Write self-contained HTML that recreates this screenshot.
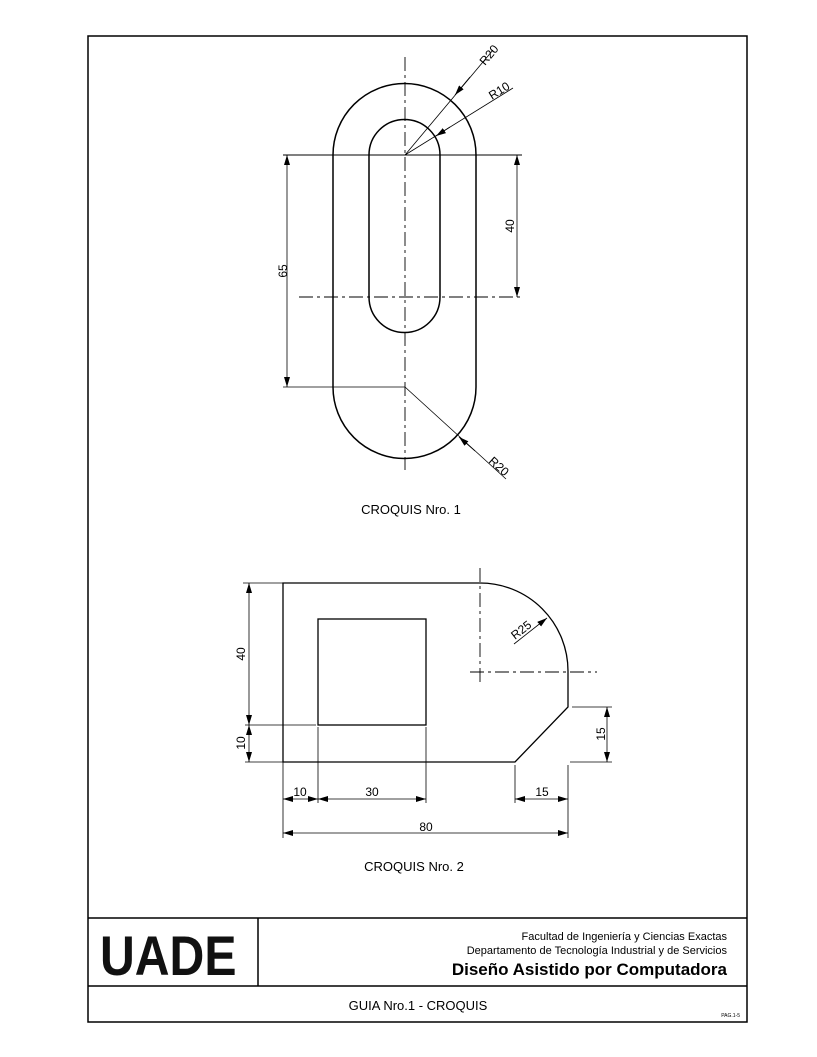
<!DOCTYPE html>
<html><head><meta charset="utf-8"><style>
html,body{margin:0;padding:0;background:#fff;}
svg{display:block;font-family:"Liberation Sans",Arial,sans-serif;}
</style></head><body>
<svg width="817" height="1057" viewBox="0 0 817 1057" xmlns="http://www.w3.org/2000/svg">
<defs>
<marker id="a" viewBox="0 0 10 6" refX="10" refY="3" markerWidth="10" markerHeight="6" orient="auto-start-reverse" markerUnits="userSpaceOnUse"><path d="M0,0 L10,3 L0,6z" fill="#000"/></marker>
</defs>
<rect x="88" y="36" width="659" height="986" fill="none" stroke="#000" stroke-width="1.5"/>
<g fill="none" stroke="#000">
<path d="M333,155 A71.5,71.5 0 0 1 476,155 L476,387 A71.5,71.5 0 0 1 333,387 Z" stroke-width="1.5"/>
<path d="M369,155 A35.5,35.5 0 0 1 440,155 L440,297 A35.5,35.5 0 0 1 369,297 Z" stroke-width="1.5"/>
<line x1="405" y1="57" x2="405" y2="470" stroke-width="0.9" stroke-dasharray="14,4,3,4"/>
<line x1="299" y1="297" x2="520" y2="297" stroke-width="0.9" stroke-dasharray="14,4,3,4"/>
<line x1="283" y1="155" x2="522" y2="155" stroke-width="1"/>
<line x1="283" y1="387" x2="405" y2="387" stroke-width="0.8"/>
<line x1="287" y1="155" x2="287" y2="387" stroke-width="0.8" marker-start="url(#a)" marker-end="url(#a)"/>
<line x1="517" y1="155" x2="517" y2="297" stroke-width="0.8" marker-start="url(#a)" marker-end="url(#a)"/>
<line x1="493" y1="50" x2="405" y2="155" stroke-width="0.8"/>
<line x1="470" y1="77" x2="455" y2="95" stroke-width="0.8" marker-end="url(#a)"/>
<line x1="513" y1="88" x2="405" y2="155" stroke-width="0.8"/>
<line x1="450" y1="127" x2="436" y2="136" stroke-width="0.8" marker-end="url(#a)"/>
<line x1="405" y1="387" x2="506" y2="479" stroke-width="0.8"/>
<line x1="475" y1="451" x2="459" y2="437" stroke-width="0.8" marker-end="url(#a)"/>
<path d="M283,583 L480,583 A88,88 0 0 1 568,671 L568,707 L515,762 L283,762 Z" stroke-width="1.3"/>
<rect x="318" y="619" width="108" height="106" stroke-width="1.3"/>
<line x1="480" y1="568" x2="480" y2="682" stroke-width="0.9" stroke-dasharray="14,4,3,4"/>
<line x1="470" y1="672" x2="597" y2="672" stroke-width="0.9" stroke-dasharray="14,4,3,4"/>
<line x1="243" y1="583" x2="283" y2="583" stroke-width="0.8"/>
<line x1="245" y1="725" x2="316" y2="725" stroke-width="0.8"/>
<line x1="245" y1="762" x2="283" y2="762" stroke-width="0.8"/>
<line x1="249" y1="583" x2="249" y2="725" stroke-width="0.8" marker-start="url(#a)" marker-end="url(#a)"/>
<line x1="249" y1="725" x2="249" y2="762" stroke-width="0.8" marker-start="url(#a)" marker-end="url(#a)"/>
<line x1="572" y1="707" x2="612" y2="707" stroke-width="0.8"/>
<line x1="570" y1="762" x2="612" y2="762" stroke-width="0.8"/>
<line x1="607" y1="707" x2="607" y2="762" stroke-width="0.8" marker-start="url(#a)" marker-end="url(#a)"/>
<line x1="283" y1="762" x2="283" y2="838" stroke-width="0.8"/>
<line x1="318" y1="727" x2="318" y2="803" stroke-width="0.8"/>
<line x1="426" y1="727" x2="426" y2="803" stroke-width="0.8"/>
<line x1="515" y1="765" x2="515" y2="803" stroke-width="0.8"/>
<line x1="568" y1="765" x2="568" y2="838" stroke-width="0.8"/>
<line x1="283" y1="799" x2="318" y2="799" stroke-width="0.8" marker-start="url(#a)" marker-end="url(#a)"/>
<line x1="318" y1="799" x2="426" y2="799" stroke-width="0.8" marker-start="url(#a)" marker-end="url(#a)"/>
<line x1="515" y1="799" x2="568" y2="799" stroke-width="0.8" marker-start="url(#a)" marker-end="url(#a)"/>
<line x1="283" y1="833" x2="568" y2="833" stroke-width="0.8" marker-start="url(#a)" marker-end="url(#a)"/>
<line x1="514" y1="644" x2="547" y2="618" stroke-width="0.8" marker-end="url(#a)"/>
<line x1="88" y1="918" x2="747" y2="918" stroke-width="1.5"/>
<line x1="88" y1="986" x2="747" y2="986" stroke-width="1.5"/>
<line x1="258" y1="918" x2="258" y2="986" stroke-width="1.5"/>
</g>
<g font-size="12" fill="#000">
<text transform="translate(485,66) rotate(-50)">R20</text>
<text transform="translate(492,100) rotate(-32)">R10</text>
<text transform="translate(488,462) rotate(42)">R20</text>
<text transform="translate(287,271) rotate(-90)" text-anchor="middle">65</text>
<text transform="translate(514,226) rotate(-90)" text-anchor="middle">40</text>
<text x="411" y="514" text-anchor="middle" font-size="13">CROQUIS Nro. 1</text>
<text transform="translate(245,654) rotate(-90)" text-anchor="middle">40</text>
<text transform="translate(245,743) rotate(-90)" text-anchor="middle">10</text>
<text transform="translate(605,734) rotate(-90)" text-anchor="middle">15</text>
<text transform="translate(515,640) rotate(-38)">R25</text>
<text x="300" y="796" text-anchor="middle">10</text>
<text x="372" y="796" text-anchor="middle">30</text>
<text x="542" y="796" text-anchor="middle">15</text>
<text x="426" y="831" text-anchor="middle">80</text>
<text x="414" y="871" text-anchor="middle" font-size="13">CROQUIS Nro. 2</text>
<text x="0" y="0" font-size="56" font-weight="bold" fill="#111" transform="translate(100,975) scale(0.86,1)">UADE</text>
<text x="727" y="940" text-anchor="end" font-size="11">Facultad de Ingeniería y Ciencias Exactas</text>
<text x="727" y="954" text-anchor="end" font-size="11">Departamento de Tecnología Industrial y de Servicios</text>
<text x="727" y="975" text-anchor="end" font-size="17" font-weight="bold">Diseño Asistido por Computadora</text>
<text x="418" y="1010" text-anchor="middle" font-size="13">GUIA Nro.1 - CROQUIS</text>
<text x="740" y="1017" text-anchor="end" font-size="5">PAG.1-5</text>
</g>
</svg>
</body></html>
